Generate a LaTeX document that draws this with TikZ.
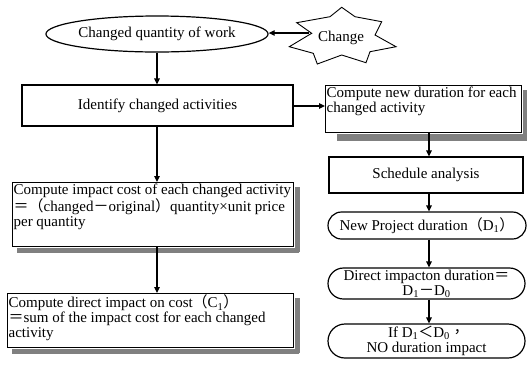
\documentclass[tikz,border=0pt]{standalone}
\usepackage{fontspec}
\setmainfont{Liberation Serif}
\newfontfamily\cjk{Noto Sans CJK TC}
\usetikzlibrary{shapes.geometric,shapes.misc,arrows.meta,calc}
% full-width punctuation
\newcommand\fwl{{\cjk （}}
\newcommand\fwr{{\cjk ）}}
\newcommand\fweq{{\cjk ＝}}
\newcommand\fwminus{{\cjk －}}
\newcommand\fwlt{{\cjk ＜}}
\newcommand\fwcomma{{\cjk ，}}
\newcommand\sub[1]{\textsubscript{#1}}
\definecolor{shadegray}{RGB}{128,128,128}
\begin{document}
\begin{tikzpicture}[x=1pt,y=-1pt,
  every node/.style={font=\fontsize{15}{15}\selectfont, inner sep=0pt},
  box/.style={draw, line width=1.2pt, rectangle},
  pill/.style={draw, line width=1.2pt, rounded rectangle},
  shade box/.style={fill=shadegray},
  arr/.style={line width=1.2pt, -{Triangle[length=6pt,width=5.5pt]}}]
\useasboundingbox (0,0) rectangle (527,365);

% top: changed quantity and the change star
\node[draw, ellipse, line width=1.2pt, minimum width=198pt, minimum height=36pt] (work) at (157,34) {Changed quantity of work};
\draw[line width=0.9pt, line join=miter]
  (341.7,7.3) -- (355,16.7) -- (381.7,21.7) -- (375,35) -- (396,46.7) -- (370,51.7)
  -- (366,62.7) -- (341.7,55) -- (317.3,64) -- (313.3,53.3) -- (289.3,46.7)
  -- (311.7,33.3) -- (296.7,22.7) -- (330,16.7) -- cycle;
\node (chg) at (341,38) {Change};
\coordinate (chgL) at (309,33);

% left column
\node[box, minimum width=271pt, minimum height=41pt] (ident) at (157.5,105.5) {Identify changed activities};
\node[box, minimum width=281pt, minimum height=64pt, anchor=north west, inner xsep=1pt, inner ysep=1.5pt] (impact) at (12,182)
  {\vbox to 61pt{\hsize=279pt\noindent Compute impact cost of each changed activity\\
   \fweq\fwl changed\fwminus original\fwr quantity×unit price\\
   per quantity\vfil}};
\node[box, minimum width=286pt, minimum height=54pt, anchor=north west, inner xsep=1pt, inner ysep=1.5pt] (dcost) at (7,293)
  {\vbox to 51pt{\hsize=284pt\noindent Compute direct impact on cost\fwl C\sub{1}\fwr\\
   \fweq sum of the impact cost for each changed\\
   activity\vfil}};

% right column
\node[box, minimum width=196pt, minimum height=47pt, anchor=north west, inner xsep=1pt, inner ysep=1.5pt] (newdur) at (325,85)
  {\vbox to 44pt{\hsize=194pt\noindent Compute new duration for each\\
   changed activity\vfil}};
\node[box, minimum width=194pt, minimum height=36pt] (sched) at (426,175) {Schedule analysis};
\node[pill, minimum width=198pt, minimum height=27pt] (newproj) at (427,225.5) {New Project duration\fwl D\sub{1}\fwr};
\node[pill, minimum width=197pt, minimum height=31pt, align=center] (direct) at (426.5,283.5) {Direct impacton duration\fweq\\D\sub{1}\fwminus D\sub{0}};
\node[pill, minimum width=197pt, minimum height=34pt, align=center, font=\fontsize{15}{15.5}\selectfont] (ifd) at (426.5,341) {If D\sub{1}\fwlt D\sub{0}\fwcomma\\NO duration impact};

% drop shadows: strips right of and below three boxes
\path[shade box] (impact.north east) ++(0.6,5) rectangle ++(5.4,65);
\path[shade box] (impact.south west) ++(5,0.6) rectangle ++(282,5.4);
\path[shade box] (dcost.north east) ++(0.6,5) rectangle ++(5.4,55);
\path[shade box] (dcost.south west) ++(5,0.6) rectangle ++(287,5.4);
\path[shade box] (newdur.north east) ++(0.6,5) rectangle ++(5.4,51);
\path[shade box] (newdur.south west) ++(12,0.6) rectangle ++(191,7.4);

% connectors
\coordinate (lx) at (157,0);
\coordinate (rx) at (429,0);
\draw[arr] (chgL) -- (work.east |- chgL);
\draw[arr] (work.south -| lx) -- (ident.north -| lx);
\draw[arr] (ident.south -| lx) -- (impact.north -| lx);
\draw[arr] (impact.south -| lx) -- (dcost.north -| lx);
\draw[arr] (ident.east |- 0,106) -- (newdur.west |- 0,106);
\draw[arr] (newdur.south -| rx) -- (sched.north -| rx);
\draw[arr] (sched.south -| rx) -- (newproj.north -| rx);
\draw[arr] (newproj.south -| rx) -- (direct.north -| rx);
\draw[arr] (direct.south -| rx) -- (ifd.north -| rx);
\end{tikzpicture}
\end{document}
